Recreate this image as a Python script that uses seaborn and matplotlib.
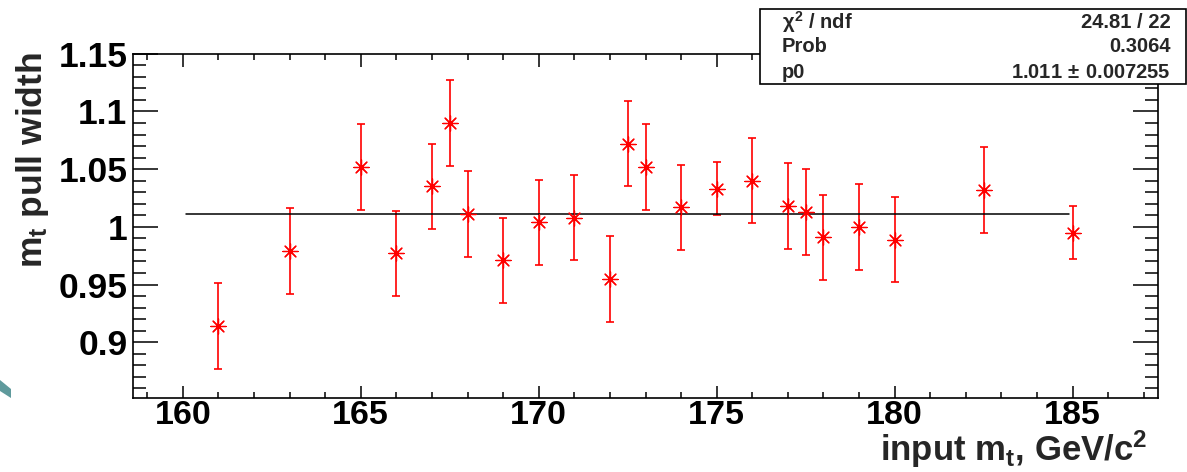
import matplotlib
matplotlib.use("Agg")
import matplotlib.pyplot as plt
import seaborn as sns
import pandas as pd
from matplotlib.ticker import MultipleLocator
from matplotlib.patches import Rectangle, Polygon

mass = [161, 163, 165, 166, 167, 167.5, 168, 169, 170, 171, 172, 172.5,
        173, 174, 175, 176, 177, 177.5, 178, 179, 180, 182.5, 185]
width = [0.914, 0.979, 1.052, 0.977, 1.035, 1.090, 1.011, 0.971, 1.004, 1.008,
         0.955, 1.072, 1.052, 1.017, 1.033, 1.040, 1.018, 1.013, 0.991, 1.000,
         0.989, 1.032, 0.995]
err = [0.037, 0.037, 0.037, 0.037, 0.037, 0.037, 0.037, 0.037, 0.037, 0.037,
       0.037, 0.037, 0.037, 0.037, 0.023, 0.037, 0.037, 0.037, 0.037, 0.037,
       0.037, 0.037, 0.023]
fit_p0 = 1.011
fit_range = [160.1, 184.9]
stats_names = [r"$\chi^{2}$ / ndf", "Prob", "p0"]
stats_vals = ["24.81 / 22", "0.3064", r"1.011$\,\pm\,$0.007255"]

df = pd.DataFrame({"mass": mass, "width": width, "err": err})

sns.set_style("ticks")
plt.rcParams["font.family"] = ["Liberation Sans", "DejaVu Sans"]
plt.rcParams["font.weight"] = "bold"
plt.rcParams["mathtext.fontset"] = "custom"
plt.rcParams["mathtext.rm"] = "Liberation Sans:bold"
plt.rcParams["mathtext.bf"] = "Liberation Sans:bold"
plt.rcParams["mathtext.it"] = "Liberation Sans:bold"

W, H = 1187, 472
fig = plt.figure(figsize=(W / 100, H / 100), dpi=100)
ax = fig.add_axes([133 / W, 1 - 397.7 / H, (1158 - 133) / W, (397.7 - 53.7) / H])

ax.errorbar(df["mass"], df["width"], yerr=df["err"], fmt="none",
            ecolor="red", elinewidth=1.2, capsize=3, capthick=1.2)
sns.scatterplot(data=df, x="mass", y="width", ax=ax, marker=(8, 2, 0),
                color="red", s=120, linewidth=0.9, zorder=3)
ax.plot(fit_range, [fit_p0, fit_p0], color="black", lw=1.1)

ax.set_xlim(158.6, 187.4)
ax.set_ylim(0.852, 1.15)
ax.set_xlabel("")
ax.set_ylabel("")
ax.xaxis.set_major_locator(MultipleLocator(5))
ax.xaxis.set_minor_locator(MultipleLocator(1))
ax.yaxis.set_minor_locator(MultipleLocator(0.01))
ax.set_yticks([0.9, 0.95, 1.0, 1.05, 1.1, 1.15])
ax.set_yticklabels(["0.9", "0.95", "1", "1.05", "1.1", "1.15"])
ax.tick_params(axis="both", which="both", direction="in", top=True, right=True,
               width=1.1, colors="black")
ax.tick_params(axis="x", which="major", length=9, pad=2, labelsize=24.5)
ax.tick_params(axis="x", which="minor", length=4.5)
ax.tick_params(axis="y", which="major", length=18, pad=4, labelsize=25.5)
ax.tick_params(axis="y", which="minor", length=9.5)
for lab in ax.get_xticklabels() + ax.get_yticklabels():
    lab.set_fontweight("bold")
for sp in ax.spines.values():
    sp.set_linewidth(1.2)
    sp.set_color("black")

fig.text(33 / W, 1 - 160 / H, r"m$_{t}$ pull width", rotation=90,
         ha="center", va="center", fontsize=25.5, fontweight="bold")
fig.text(1147 / W, 1 - 461 / H, r"input m$_{t}$, GeV/c$^{2}$",
         ha="right", va="baseline", fontsize=25, fontweight="bold")

# stats box
fig.patches.append(Rectangle((760 / W, 1 - 84 / H), (1186 - 760) / W, 75 / H,
                             transform=fig.transFigure, facecolor="white",
                             edgecolor="black", lw=1.2, zorder=5))
for i, (n, v) in enumerate(zip(stats_names, stats_vals)):
    yy = 1 - (22 + 25 * i) / H
    fig.text(782 / W, yy, n, ha="left", va="center", fontsize=14.5,
             fontweight="bold", zorder=6)
    fig.text(1171 / W, yy, v, ha="right", va="center", fontsize=14.5,
             fontweight="bold", zorder=6)

# teal fragment at left edge
fig.patches.append(Polygon([(0, 1 - 380 / H), (11 / W, 1 - 389 / H),
                            (11 / W, 1 - 398 / H), (0, 1 - 391 / H)],
                           closed=True, transform=fig.transFigure,
                           facecolor="#5f9a9c", edgecolor="none"))

fig.savefig("out.png", dpi=100)
